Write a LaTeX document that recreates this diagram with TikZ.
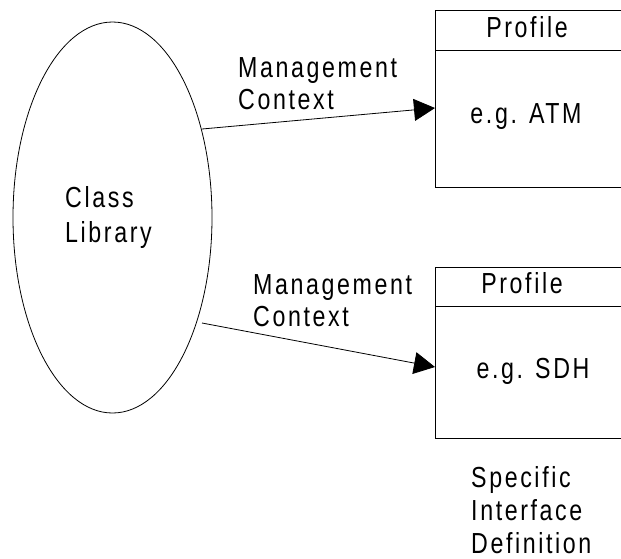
\documentclass[tikz,border=0pt]{standalone}
\usepackage{fontspec}
\setmainfont{Liberation Sans}[FakeStretch=0.8,LetterSpace=9]
\usetikzlibrary{arrows.meta}
\begin{document}
\begin{tikzpicture}[x=1pt,y=-1pt,
  every node/.style={font=\fontsize{29}{32}\selectfont, inner sep=0pt},
  lbl/.style={anchor=base west, align=left},
  conn/.style={line width=0.8pt, -{Triangle[length=21pt,width=22pt]}},
  shp/.style={draw, line width=0.8pt}]
\useasboundingbox (0,0) rectangle (621,558);
% ellipse
\draw[shp] (112.5,217.5) ellipse [x radius=99.5, y radius=195.5];
\node[lbl, font=\fontsize{29}{35}\selectfont] (libtxt) at (65,242) {Class\\Library};
% top box
\draw[shp] (640,10) -- (435,10) -- (435,187) -- (640,187);
\draw[shp] (435,50) -- (640,50);
\coordinate (box1w) at (435,108);
\node[anchor=base] (p1) at (527,37) {Profile};
\node[anchor=base] (atm) at (526,123) {e.g. ATM};
% bottom box
\draw[shp] (640,267) -- (435,267) -- (435,438) -- (640,438);
\draw[shp] (435,306) -- (640,306);
\coordinate (box2w) at (435,367);
\node[anchor=base] (p2) at (522,293) {Profile};
\node[anchor=base] (sdh) at (533,378) {e.g. SDH};
% connectors
\coordinate (s1) at (202,129);
\coordinate (s2) at (202,323);
\draw[conn] (s1) -- (box1w);
\draw[conn] (s2) -- (box2w);
\node[lbl] (mc1) at (238,109) {Management\\Context};
\node[lbl] (mc2) at (253,326) {Management\\Context};
\node[lbl, font=\fontsize{29}{33}\selectfont] (sid) at (471,553) {Specific\\Interface\\Definition};
\end{tikzpicture}
\end{document}
